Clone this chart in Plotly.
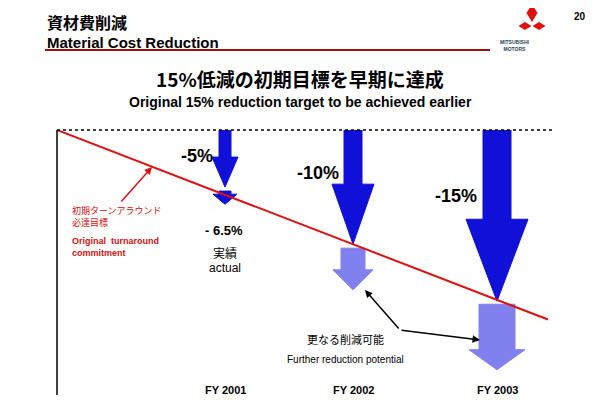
import plotly.graph_objects as go

years = ["FY 2001", "FY 2002", "FY 2003"]
year_x = [168, 296, 440]            # horizontal position of each fiscal year on the axis
targets = [-5, -10, -15]            # original turnaround commitment
actual = [-6.5, None, None]         # achieved
potential = [None, -14.0, -21.0]    # further reduction potential
target_labels = ["-5%", "-10%", "-15%"]
line_x = [0, 491]
line_y = [0, -16.6]

OFF = 8  # page body margin
W, H = 600 - OFF, 415 - OFF
L, R, T, B = 57 - OFF, 45 - OFF, 130 - OFF, 35 - OFF
PW, PH = W - L - R, H - T - B
YMIN = -22.6

def px(x, y):
    return (x - OFF - L) / PW, (H - B - (y - OFF)) / PH

def ydu(pixels):
    return pixels * (-YMIN) / PH

fig = go.Figure()

def arrow(xc, y0, y1, shaft, head, headlen, color):
    hy = y1 + ydu(headlen)
    xs = [xc - shaft/2, xc + shaft/2, xc + shaft/2, xc + head/2, xc, xc - head/2, xc - shaft/2, xc - shaft/2]
    ys = [y0, y0, hy, hy, y1, hy, hy, y0]
    fig.add_trace(go.Scatter(x=xs, y=ys, fill="toself", fillcolor=color, mode="lines",
                             line=dict(color=color, width=1), hoverinfo="skip", showlegend=False))

dark = "#1010d8"
light = "#8080ee"
shafts = [12, 18, 28]
heads = [26, 42, 62]
hlen = [30, 60, 82]
for i, xc in enumerate(year_x):
    arrow(xc, 0, targets[i], shafts[i], heads[i], hlen[i], dark)
arrow(year_x[0], targets[0] - ydu(4), actual[0], 12, 24, 10, dark)
arrow(year_x[1], targets[1] - ydu(4), potential[1], 24, 40, 20, light)
arrow(year_x[2], targets[2] - ydu(3), potential[2], 36, 56, 20, light)

fig.add_trace(go.Scatter(x=line_x, y=line_y, mode="lines", line=dict(color="#dd1111", width=2),
                         hoverinfo="skip", showlegend=False))

ann = []
def text(x, y, s, size, color="black", bold=True, xanchor="center", family="Arial"):
    xp, yp = px(x, y)
    if bold: s = "<b>" + s + "</b>"
    ann.append(dict(x=xp, y=yp, xref="paper", yref="paper", text=s, showarrow=False,
                    font=dict(size=size, color=color, family=family), xanchor=xanchor, yanchor="middle", align="left"))

jp = "Noto Sans CJK JP"
text(45, 22, "資材費削減", 16, xanchor="left", family=jp)
text(45, 42, "Material Cost Reduction", 15, xanchor="left")
text(580, 16, "20", 10)
text(300, 78, "15%低減の初期目標を早期に達成", 19, family=jp)
text(300, 102, "Original 15% reduction target to be achieved earlier", 14)
for i, xc in enumerate(year_x):
    text(xc + 57, 390, years[i], 11)
text(197, 156, target_labels[0], 18)
text(318, 173, target_labels[1], 18)
text(456, 196, target_labels[2], 18)
text(224, 230, "- 6.5%", 13)
text(225, 252, "実績", 12, bold=False, family=jp)
text(225, 268, "actual", 12, bold=False)
text(345, 339, "更なる削減可能", 11, bold=False, family=jp)
text(345, 359, "Further reduction potential", 10, bold=False)
text(70, 216, "初期ターンアラウンド<br>必達目標", 9, color="#cc1111", bold=False, xanchor="left", family=jp)
text(70, 247, "Original  turnaround<br>commitment", 9, color="#cc1111", xanchor="left")

def parrow(x0, y0, x1, y1, color):
    a, b = px(x1, y1)
    ann.append(dict(x=a, y=b, ax=x0 - x1, ay=y0 - y1, xref="paper", yref="paper", axref="pixel", ayref="pixel",
                    showarrow=True, arrowhead=2, arrowsize=1, arrowwidth=1.5, arrowcolor=color, text=""))
parrow(120, 203, 152, 167, "#dd1111")
parrow(400, 330, 365, 290, "black")
parrow(400, 330, 480, 340, "black")

shapes = []
def pline(x0, y0, x1, y1, color, width=1, dash="solid"):
    a, b = px(x0, y0); c, d = px(x1, y1)
    shapes.append(dict(type="line", xref="paper", yref="paper", x0=a, y0=b, x1=c, y1=d,
                       line=dict(color=color, width=width, dash=dash)))
pline(45, 50, 490, 50, "#a01010", 2)
pline(57, 130, 555, 130, "black", 1.5, "dot")
pline(57, 130, 57, 395, "black", 1.5)

def diamond(cx, cy, w, h):
    pts = [(cx, cy - h/2), (cx + w/2, cy), (cx, cy + h/2), (cx - w/2, cy)]
    path = "M " + " L ".join("%f,%f" % px(x, y) for x, y in pts) + " Z"
    shapes.append(dict(type="path", xref="paper", yref="paper", path=path, fillcolor="#e01010", line=dict(width=0)))
diamond(532, 13, 11, 18)
diamond(525, 26, 13, 8)
diamond(539, 26, 13, 8)
lx, ly = px(532, 37)
ann.append(dict(x=lx, y=ly, xref="paper", yref="paper", text="<b>MITSUBISHI<br>MOTORS</b>",
                showarrow=False, font=dict(size=5, family="Arial"), align="center"))

fig.update_layout(width=W, height=H, margin=dict(l=L, r=R, t=T, b=B), plot_bgcolor="white", paper_bgcolor="white",
                  xaxis=dict(range=[0, PW], visible=False), yaxis=dict(range=[YMIN, 0], visible=False),
                  annotations=ann, shapes=shapes, showlegend=False)
fig.write_html("out.html")
